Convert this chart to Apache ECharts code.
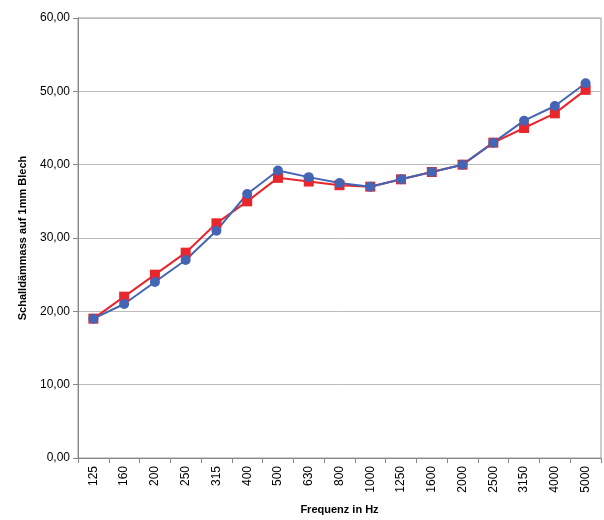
<!DOCTYPE html>
<html lang="de">
<head>
<meta charset="UTF-8"/>
<script src="https://cdn.jsdelivr.net/npm/echarts@6/dist/echarts.min.js"></script>
<style>body{margin:0;background:#fff}</style>
</head>
<body>
<div id="main" style="width:604px;height:520px;"></div>
<script type="text/javascript">
var categories = ['125','160','200','250','315','400','500','630','800','1000','1250','1600','2000','2500','3150','4000','5000'];
var redValues = [19, 22, 25, 28, 32, 35, 38.2, 37.7, 37.2, 37, 38, 39, 40, 43, 45, 47, 50.2];
var blueValues = [19, 21, 24, 27, 31, 36, 39.2, 38.3, 37.5, 37, 38, 39, 40, 43, 46, 48, 51.1];

var myChart = echarts.init(document.getElementById('main'));
var option = {
  animation: false,
  grid: { left: 78, right: 3, top: 18, bottom: 62, show: true, borderColor: '#999', borderWidth: 1 },
  xAxis: {
    type: 'category',
    data: categories,
    boundaryGap: true,
    name: 'Frequenz in Hz',
    nameLocation: 'middle',
    nameGap: 46,
    nameTextStyle: { fontFamily: 'Arial, Liberation Sans', fontWeight: 'bold', fontSize: 11, color: '#000' },
    axisLine: { lineStyle: { color: '#888' } },
    axisTick: { show: true, alignWithLabel: false, lineStyle: { color: '#888' } },
    axisLabel: { rotate: 90, color: '#000', fontSize: 12, fontFamily: 'Arial, Liberation Sans', margin: 8 }
  },
  yAxis: {
    type: 'value',
    min: 0, max: 60, interval: 10,
    name: 'Schalldämmass auf 1mm Blech',
    nameLocation: 'middle',
    nameGap: 50,
    nameTextStyle: { fontFamily: 'Arial, Liberation Sans', fontWeight: 'bold', fontSize: 11, color: '#000' },
    axisLine: { show: true, lineStyle: { color: '#888' } },
    axisTick: { show: true, lineStyle: { color: '#888' } },
    splitLine: { lineStyle: { color: '#bbb' } },
    axisLabel: {
      color: '#000', fontSize: 12, fontFamily: 'Arial, Liberation Sans',
      formatter: function (v) { return v.toFixed(2).replace('.', ','); }
    }
  },
  series: [
    {
      type: 'line', data: redValues, symbol: 'rect', symbolSize: 10,
      lineStyle: { color: '#e8262c', width: 2 }, itemStyle: { color: '#e8262c' }
    },
    {
      type: 'line', data: blueValues, symbol: 'circle', symbolSize: 10,
      lineStyle: { color: '#4464b4', width: 2 }, itemStyle: { color: '#4464b4' }
    }
  ]
};
myChart.setOption(option);
</script>
</body>
</html>
